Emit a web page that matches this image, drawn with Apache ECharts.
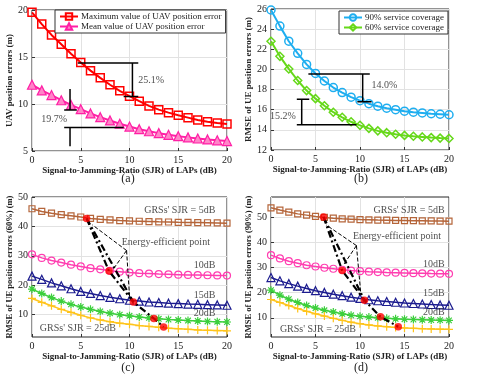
<!DOCTYPE html>
<html><head><meta charset="utf-8">
<script src="https://cdn.jsdelivr.net/npm/echarts@6/dist/echarts.min.js"></script>
<style>html,body{margin:0;padding:0;background:#fff}#c{width:477px;height:381px}</style>
</head><body><div id="c"></div>
<script>
// ---------- data ----------
const sjr = [0,1,2,3,4,5,6,7,8,9,10,11,12,13,14,15,16,17,18,19,20];
const xTicks = [0,5,10,15,20];
const yTicksCD = [10,20,30,40,50];
// (a)
const uavMax  = [19.75,18.5,17.35,16.35,15.35,14.42,13.55,12.78,12.05,11.4,10.83,10.3,9.8,9.4,9.08,8.8,8.55,8.3,8.12,7.98,7.88];
const uavMean = [12.05,11.45,10.95,10.4,9.9,9.45,9.0,8.6,8.25,7.9,7.6,7.32,7.1,6.9,6.72,6.58,6.45,6.33,6.23,6.14,6.06];
// (b)
const cov90 = [25.9,24.3,22.8,21.6,20.5,19.6,18.85,18.2,17.7,17.25,16.9,16.6,16.35,16.15,16.0,15.85,15.75,15.68,15.6,15.55,15.5];
const cov60 = [22.8,21.3,20.05,18.9,17.9,17.1,16.4,15.75,15.25,14.8,14.45,14.15,13.9,13.72,13.57,13.45,13.37,13.3,13.23,13.18,13.15];
// (c) 60%
const c5  = [46.0,45.1,44.5,44.0,43.6,43.2,42.7,42.4,42.2,42.0,41.85,41.75,41.65,41.55,41.5,41.4,41.35,41.3,41.25,41.2,41.1];
const c10 = [30.5,29.3,28.4,27.7,27.0,26.4,25.8,25.4,24.9,24.6,24.3,24.1,23.95,23.8,23.7,23.6,23.5,23.45,23.4,23.35,23.3];
const c15 = [23.1,22.0,20.8,19.8,18.8,17.9,17.2,16.5,15.9,15.4,14.9,14.6,14.3,14.1,13.9,13.75,13.6,13.5,13.4,13.3,13.2];
const c20 = [18.7,17.2,15.8,14.6,13.5,12.6,11.8,11.1,10.5,10.0,9.6,9.2,8.9,8.6,8.35,8.15,8.0,7.85,7.7,7.6,7.5];
const c25 = [15.5,14.2,13.0,11.8,10.8,9.8,8.9,8.2,7.6,7.1,6.7,6.3,6.0,5.7,5.4,5.2,5.0,4.8,4.7,4.6,4.5];
const cDots = [[5.6,42.7],[7.9,24.8],[10.4,14.3],[12.5,8.7],[13.5,5.8]];
// (d) 90%
const d5  = [53.7,52.8,52.0,51.3,50.8,50.3,49.9,49.6,49.35,49.2,49.05,48.95,48.85,48.8,48.7,48.65,48.6,48.55,48.5,48.45,48.4];
const d10 = [34.9,33.6,32.5,31.7,30.9,30.4,29.9,29.5,29.1,28.8,28.55,28.35,28.2,28.05,27.95,27.85,27.75,27.7,27.6,27.55,27.5];
const d15 = [26.0,24.7,23.6,22.6,21.7,20.8,20.1,19.4,18.8,18.2,17.7,17.2,16.8,16.5,16.2,15.9,15.7,15.5,15.3,15.15,15.0];
const d20 = [21.0,19.0,17.4,16.1,14.9,13.9,13.0,12.3,11.6,11.0,10.6,10.3,10.0,9.8,9.6,9.45,9.35,9.25,9.15,9.1,9.0];
const d25 = [17.3,16.1,14.9,13.7,12.6,11.6,10.7,9.8,9.0,8.3,7.7,7.2,6.8,6.5,6.2,6.0,5.85,5.7,5.6,5.5,5.45];
const dDots = [[5.9,50.1],[8.0,28.8],[10.5,17.0],[12.3,10.4],[14.3,6.5]];

// annotations (data units)
const aSegs   = [[[4.7,14.35],[10.9,14.35]],[[9.4,10.8],[10.9,10.8]],[[3.3,9.35],[4.6,9.35]],[[3.3,7.5],[9.4,7.5]]];
const aDouble = [[[10.3,14.35],[10.3,10.8]]];
const aSingle = [[[3.9,11.6],[3.9,9.35]],[[3.9,5.5],[3.9,7.5]]];
const aTexts  = [{x:10.9,y:12.5,t:'25.1%',al:'left'},{x:3.6,y:8.4,t:'19.7%',al:'right'}];
const bSegs   = [[[4.2,19.55],[11.1,19.55]],[[9.7,16.8],[11.3,16.8]],[[2.9,17.05],[4.3,17.05]],[[2.9,14.5],[9.6,14.5]]];
const bDouble = [[[10.3,19.55],[10.3,16.8]],[[3.45,17.05],[3.45,14.5]]];
const bTexts  = [{x:11.3,y:18.45,t:'14.0%',al:'left'},{x:2.8,y:15.3,t:'15.2%',al:'right'}];
const cPaths  = [[cDots[0],cDots[1],cDots[2],cDots[3],cDots[4]],[cDots[0],cDots[2]]];
const cArrows = [[[9.7,31.8],[6.2,40.5]],[[9.7,31.8],[8.4,25.8]],[[9.7,31.8],[10.0,16.3]]];
const cTexts  = [{x:18.8,y:45.3,t:"GRSs' SJR = 5dB",al:'right'},{x:9.2,y:34.6,t:'Energy-efficient point',al:'left'},
                 {x:18.8,y:26.7,t:'10dB',al:'right'},{x:18.8,y:16.4,t:'15dB',al:'right'},{x:18.8,y:10.5,t:'20dB',al:'right'},
                 {x:0.8,y:5.2,t:"GRSs' SJR = 25dB",al:'left'}];
const dPaths  = [[dDots[0],dDots[1],dDots[2],dDots[3],dDots[4]],[dDots[0],dDots[2]]];
const dArrows = [[[9.6,38.7],[6.2,46.9]],[[9.6,38.7],[8.2,31.3]],[[9.6,38.7],[10.1,19.2]]];
const dTexts  = [{x:19.5,y:52.7,t:"GRSs' SJR = 5dB",al:'right'},{x:9.2,y:42.5,t:'Energy-efficient point',al:'left'},
                 {x:19.5,y:31.3,t:'10dB',al:'right'},{x:19.5,y:19.9,t:'15dB',al:'right'},{x:19.5,y:12.2,t:'20dB',al:'right'},
                 {x:1.0,y:5.4,t:"GRSs' SJR = 25dB",al:'left'}];

const FONT = 'Liberation Serif';
const xName = 'Signal-to-Jamming-Ratio (SJR) of LAPs (dB)';
const PLUS = 'path://M5 0L5 10M0 5L10 5';
const STAR = 'path://M5 0L5 10M0 5L10 5M1.5 1.5L8.5 8.5M1.5 8.5L8.5 1.5';

function xAx(g){
  return {type:'value', gridIndex:g, min:0, max:20, interval:5,
    axisLine:{show:false}, axisTick:{show:true, inside:true, length:3, lineStyle:{color:'#333'}},
    axisLabel:{fontSize:10, fontFamily:FONT, color:'#222', margin:4},
    splitLine:{show:true, lineStyle:{color:'#e2e2e2', width:1}},
    name:xName, nameLocation:'middle', nameGap:11,
    nameTextStyle:{fontSize:9, fontWeight:'bold', fontFamily:FONT, color:'#222'}};
}
function yAx(g, name, extra, nsize){
  return Object.assign({type:'value', gridIndex:g,
    axisLine:{show:false}, axisTick:{show:true, inside:true, length:3, lineStyle:{color:'#333'}},
    axisLabel:{fontSize:10, fontFamily:FONT, color:'#222', margin:4},
    splitLine:{show:true, lineStyle:{color:'#e2e2e2', width:1}},
    name:name, nameLocation:'middle', nameGap:17,
    nameTextStyle:{fontSize:nsize||9, fontWeight:'bold', fontFamily:FONT, color:'#222'}}, extra);
}
function lineS(g, name, ys, st){
  return {type:'line', name:name, xAxisIndex:g, yAxisIndex:g,
    data: sjr.map((x,i)=>[x, ys[i]]), symbol:st.symbol, symbolSize:st.size, showAllSymbol:true,
    lineStyle:{color:st.color, width:st.width||1.5},
    itemStyle:{color:st.fill||'rgba(0,0,0,0)', borderColor:st.color, borderWidth:st.bw||1.2},
    z:3, silent:true};
}
function linesS(g, list, st){
  return {type:'lines', coordinateSystem:'cartesian2d', xAxisIndex:g, yAxisIndex:g, polyline:true,
    data: list.map(c=>({coords:c})), symbol:st.symbol||['none','none'], symbolSize:st.symbolSize||8,
    lineStyle:{color:'#000', width:st.width||1.5, type:st.type||'solid', opacity:1}, z:st.z||5, silent:true};
}
function textS(g, list, size){
  return {type:'scatter', xAxisIndex:g, yAxisIndex:g, symbolSize:1, itemStyle:{color:'rgba(0,0,0,0)'}, z:10, silent:true,
    data: list.map(t=>({value:[t.x,t.y], label:{show:true, formatter:t.t, position:'inside', align:t.al, verticalAlign:'middle',
      fontSize:size||10, fontFamily:FONT, color:'#222'}}))};
}
function dotS(g, pts){
  return {type:'scatter', xAxisIndex:g, yAxisIndex:g, data:pts, symbol:'circle', symbolSize:7.5,
    itemStyle:{color:'#ff0000'}, z:8, silent:true};
}

const grids = [
  {left:32, top:10, width:195, height:141},
  {left:271, top:9, width:178, height:141},
  {left:32, top:197, width:195, height:140},
  {left:271, top:197, width:178, height:140}
].map(g=>Object.assign({show:true, borderColor:'#262626', borderWidth:1, backgroundColor:'#fff'}, g));

const cStyles = [
  {color:'#b5653a', symbol:'rect', size:6},
  {color:'#ff3db0', symbol:'circle', size:7},
  {color:'#1c1c8f', symbol:'triangle', size:8},
  {color:'#3ccf3c', symbol:STAR, size:8},
  {color:'#ffc41a', symbol:PLUS, size:8}
];
const cNames = ['5dB','10dB','15dB','20dB','25dB'];

const series = [
  lineS(0,'Maximum value of UAV position error', uavMax, {color:'#ff0000', symbol:'rect', size:8, width:2, bw:1.5}),
  lineS(0,'Mean value of UAV position error', uavMean, {color:'#ff1fa5', fill:'#ff85c8', symbol:'triangle', size:9, width:2, bw:1.2}),
  linesS(0, aSegs, {width:1.5}),
  linesS(0, aDouble, {symbol:['arrow','arrow'], symbolSize:9, width:1.5}),
  linesS(0, aSingle, {symbol:['none','arrow'], symbolSize:9, width:1.5}),
  textS(0, aTexts, 10),
  lineS(1,'90% service coverage', cov90, {color:'#1eaef0', symbol:'circle', size:8, width:2, bw:1.5}),
  lineS(1,'60% service coverage', cov60, {color:'#66d81a', symbol:'diamond', size:8, width:2, bw:1.5}),
  linesS(1, bSegs, {width:1.5}),
  linesS(1, bDouble, {symbol:['arrow','arrow'], symbolSize:9, width:1.5}),
  textS(1, bTexts, 10)
];
[c5,c10,c15,c20,c25].forEach((ys,i)=>series.push(lineS(2,'c'+cNames[i], ys, Object.assign({width:1.5, bw:1.2}, cStyles[i]))));
[d5,d10,d15,d20,d25].forEach((ys,i)=>series.push(lineS(3,'d'+cNames[i], ys, Object.assign({width:1.5, bw:1.2}, cStyles[i]))));
series.push(linesS(2, cPaths, {width:2.2, type:[7,3,2,3], z:6}));
series.push(linesS(3, dPaths, {width:2.2, type:[7,3,2,3], z:6}));
series.push(linesS(2, cArrows, {width:1, type:[4,2], symbol:['none','arrow'], symbolSize:7, z:7}));
series.push(linesS(3, dArrows, {width:1, type:[4,2], symbol:['none','arrow'], symbolSize:7, z:7}));
series.push(dotS(2, cDots), dotS(3, dDots));
series.push(textS(2, cTexts, 10), textS(3, dTexts, 10));

const legendBase = {orient:'vertical', itemGap:1, itemWidth:18, itemHeight:8, padding:[2,4,2,4],
  borderColor:'#333', borderWidth:1, backgroundColor:'#fff', borderRadius:0,
  textStyle:{fontSize:9, fontFamily:FONT, color:'#222', padding:[0,0,0,-2]}, selectedMode:false};

const chart = echarts.init(document.getElementById('c'), null, {renderer:'canvas'});
chart.setOption({
  animation:false,
  backgroundColor:'#fff',
  grid: grids,
  title: [
    {text:'(a)', left:128, top:173, textAlign:'center'},
    {text:'(b)', left:361, top:173, textAlign:'center'},
    {text:'(c)', left:128, top:362, textAlign:'center'},
    {text:'(d)', left:361, top:362, textAlign:'center'}
  ].map(t=>Object.assign({padding:0, textStyle:{fontSize:12, fontWeight:'normal', fontFamily:FONT, color:'#222'}}, t)),
  legend: [
    Object.assign({}, legendBase, {left:55, top:10, data:['Maximum value of UAV position error','Mean value of UAV position error']}),
    Object.assign({}, legendBase, {left:339, top:11, data:['90% service coverage','60% service coverage']})
  ],
  xAxis: [xAx(0), xAx(1), xAx(2), xAx(3)],
  yAxis: [
    yAx(0, 'UAV position errors (m)', {min:5, max:20, interval:5}),
    yAx(1, 'RMSE of UE position errors (m)', {min:12, max:26, interval:2}),
    yAx(2, 'RMSE of UE position errors (60%) (m)', {min:2.4, max:50,
      axisLabel:{fontSize:10, fontFamily:FONT, color:'#222', margin:4, customValues:yTicksCD},
      axisTick:{show:true, inside:true, length:3, customValues:yTicksCD, lineStyle:{color:'#333'}}}, 8.5),
    yAx(3, 'RMSE of UE position errors (90%) (m)', {min:2.4, max:58,
      axisLabel:{fontSize:10, fontFamily:FONT, color:'#222', margin:4, customValues:yTicksCD},
      axisTick:{show:true, inside:true, length:3, customValues:yTicksCD, lineStyle:{color:'#333'}}}, 8.5)
  ],
  series: series
});
</script>
</body></html>
